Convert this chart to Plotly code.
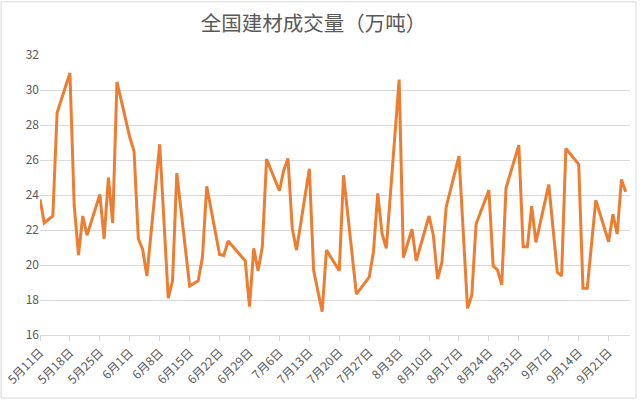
#!/usr/bin/env python3
"""
National building materials trading volume (10k tonnes), daily line chart
"""

import pandas as pd
import plotly.graph_objects as go

# Trading days and volumes
dates = [
    "2020-05-11", "2020-05-12", "2020-05-14", "2020-05-15", "2020-05-18", "2020-05-19",
    "2020-05-20", "2020-05-21", "2020-05-22", "2020-05-25", "2020-05-26", "2020-05-27",
    "2020-05-28", "2020-05-29", "2020-06-01", "2020-06-02", "2020-06-03", "2020-06-04",
    "2020-06-05", "2020-06-08", "2020-06-10", "2020-06-11", "2020-06-12", "2020-06-15",
    "2020-06-17", "2020-06-18", "2020-06-19", "2020-06-22", "2020-06-23", "2020-06-24",
    "2020-06-28", "2020-06-29", "2020-06-30", "2020-07-01", "2020-07-02", "2020-07-03",
    "2020-07-06", "2020-07-07", "2020-07-08", "2020-07-09", "2020-07-10", "2020-07-13",
    "2020-07-14", "2020-07-16", "2020-07-17", "2020-07-20", "2020-07-21", "2020-07-24",
    "2020-07-27", "2020-07-28", "2020-07-29", "2020-07-30", "2020-07-31", "2020-08-03",
    "2020-08-04", "2020-08-06", "2020-08-07", "2020-08-10", "2020-08-11", "2020-08-12",
    "2020-08-13", "2020-08-14", "2020-08-17", "2020-08-19", "2020-08-20", "2020-08-21",
    "2020-08-24", "2020-08-25", "2020-08-26", "2020-08-27", "2020-08-28", "2020-08-31",
    "2020-09-01", "2020-09-02", "2020-09-03", "2020-09-04", "2020-09-07", "2020-09-09",
    "2020-09-10", "2020-09-11", "2020-09-14", "2020-09-15", "2020-09-16", "2020-09-18",
    "2020-09-21", "2020-09-22", "2020-09-23", "2020-09-24", "2020-09-25",
]
volumes = [
    23.75, 22.4, 22.8, 28.7, 30.97, 23.4,
    20.57, 22.8, 21.7, 24.03, 21.5, 25.0,
    22.4, 30.46, 27.3, 26.5, 21.5, 20.9,
    19.37, 26.9, 18.1, 19.1, 25.25, 18.8,
    19.1, 20.45, 24.5, 20.6, 20.55, 21.37,
    20.24, 17.62, 20.95, 19.67, 21.04, 26.05,
    24.24, 25.4, 26.09, 22.09, 20.85, 25.5,
    19.7, 17.33, 20.85, 19.67, 25.13, 18.34,
    19.3, 20.76, 24.09, 21.8, 20.95, 30.6,
    20.43, 22.05, 20.24, 22.8, 21.7, 19.2,
    20.15, 23.3, 26.22, 17.52, 18.28, 22.34,
    24.28, 19.94, 19.72, 18.86, 24.4, 26.85,
    21.04, 21.04, 23.36, 21.29, 24.6, 19.58,
    19.38, 26.66, 25.76, 18.67, 18.67, 23.7,
    21.33, 22.9, 21.77, 24.89, 24.18,
]

TITLE = "全国建材成交量（万吨）"
Y_TICKS = [16, 18, 20, 22, 24, 26, 28, 30, 32]
X_RANGE = ["2020-05-11", "2020-09-26"]


def build_chart():
    df = pd.DataFrame({"date": pd.to_datetime(dates), "volume": volumes})

    fig = go.Figure()
    fig.add_trace(go.Scatter(
        x=df["date"], y=df["volume"],
        mode="lines",
        line=dict(color="#ED7D31", width=3),
        showlegend=False,
    ))

    grey = "#595959"
    fig.update_layout(
        width=640, height=401,
        margin=dict(l=40, r=10, t=55, b=66),
        paper_bgcolor="white", plot_bgcolor="white",
        font=dict(family="Noto Sans CJK SC, sans-serif", color=grey, size=12),
        title=dict(text=TITLE, x=0.49, xanchor="center", y=0.94, yanchor="middle",
                   font=dict(size=20.5, color=grey)),
    )
    fig.update_xaxes(
        type="date", range=X_RANGE, automargin=False,
        tick0="2020-05-11", dtick=7 * 24 * 3600 * 1000,
        tickformat="%-m月%-d日", tickangle=-45,
        showgrid=False, showline=True, linecolor="#d9d9d9", linewidth=1,
        ticks="outside", ticklen=5, tickcolor="#d9d9d9",
        tickfont=dict(size=12, color=grey),
    )
    fig.update_yaxes(
        range=[16, 32], tickvals=Y_TICKS, automargin=False,
        showgrid=True, gridcolor="#d9d9d9", gridwidth=1,
        zeroline=False, showline=False,
        tickfont=dict(size=12, color=grey),
    )

    # light chart-area border, like the spreadsheet export
    fig.add_shape(type="rect", xref="paper", yref="paper",
                  x0=-0.066, x1=1.0102, y0=-0.225, y1=1.19,
                  line=dict(color="#d9d9d9", width=1), layer="below")

    # drop the browser's default body margin so the figure sits at 0,0
    fig.write_html("out.html", config={"displayModeBar": False},
                   post_script="document.body.style.margin='0';")


if __name__ == "__main__":
    build_chart()
